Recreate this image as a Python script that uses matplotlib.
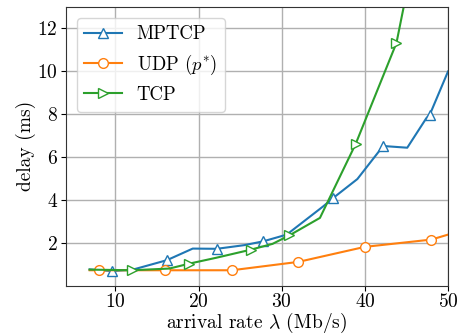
import matplotlib
matplotlib.use("Agg")
import matplotlib.pyplot as plt

plt.rcParams['font.family'] = 'serif'
plt.rcParams['font.serif'] = ['cmr10']
plt.rcParams['mathtext.fontset'] = 'cm'
plt.rcParams['axes.unicode_minus'] = False
plt.rcParams['axes.formatter.use_mathtext'] = True

mptcp_x = [6.9, 9.6, 12.1, 16.2, 19.3, 22.2, 25.5, 27.8, 30.6, 35.0, 36.2, 39.1, 42.2, 45.1, 47.4, 47.8, 50.0]
mptcp_y = [0.75, 0.67, 0.74, 1.18, 1.72, 1.71, 1.88, 2.06, 2.37, 3.69, 4.08, 4.96, 6.5, 6.42, 7.8, 7.95, 9.97]
mptcp_marks = [1, 3, 5, 7, 10, 12, 15]

udp_x = [6.9, 8.0, 16.0, 24.0, 32.0, 40.0, 48.0, 50.0]
udp_y = [0.71, 0.71, 0.71, 0.71, 1.1, 1.8, 2.14, 2.37]
udp_marks = [1, 2, 3, 4, 5, 6]

tcp_x = [6.9, 12.0, 16.5, 18.9, 22.1, 26.3, 28.9, 30.9, 34.6, 38.9, 43.8, 46.5]
tcp_y = [0.74, 0.71, 0.79, 1.02, 1.29, 1.67, 1.94, 2.33, 3.15, 6.6, 11.3, 16.5]
tcp_marks = [1, 3, 5, 7, 9, 10]

fig = plt.figure(figsize=(4.63, 3.35), dpi=100)
ax = fig.add_axes([65.5/463, 1-285.5/335, (448-65.5)/463, (285.5-6.5)/335])

ax.plot(mptcp_x, mptcp_y, color='#1f77b4', lw=1.5, marker='^', markevery=mptcp_marks,
        markersize=7, markerfacecolor='white', markeredgecolor='#1f77b4', label='MPTCP')
ax.plot(udp_x, udp_y, color='#ff7f0e', lw=1.5, marker='o', markevery=udp_marks,
        markersize=7, markerfacecolor='white', markeredgecolor='#ff7f0e', label=r'UDP ($p^{*}$)')
ax.plot(tcp_x, tcp_y, color='#2ca02c', lw=1.5, marker='>', markevery=tcp_marks,
        markersize=7, markerfacecolor='white', markeredgecolor='#2ca02c', label='TCP')

ax.set_xlim(4, 50)
ax.set_ylim(0, 13)
ax.set_xticks([10, 20, 30, 40, 50])
ax.set_yticks([2, 4, 6, 8, 10, 12])
ax.grid(True, color='#b0b0b0', lw=1.0)
ax.set_axisbelow(True)
ax.tick_params(labelsize=14, pad=2)
ax.set_xlabel(r'arrival rate $\lambda$ (Mb/s)', fontsize=14, labelpad=0)
ax.set_ylabel('delay (ms)', fontsize=14, labelpad=1)
for s in ax.spines.values():
    s.set_color('#333333')

ax.legend(loc='upper left', fontsize=13.5, framealpha=0.8, borderaxespad=0.6, handlelength=2)

fig.savefig('out.png', dpi=100)
